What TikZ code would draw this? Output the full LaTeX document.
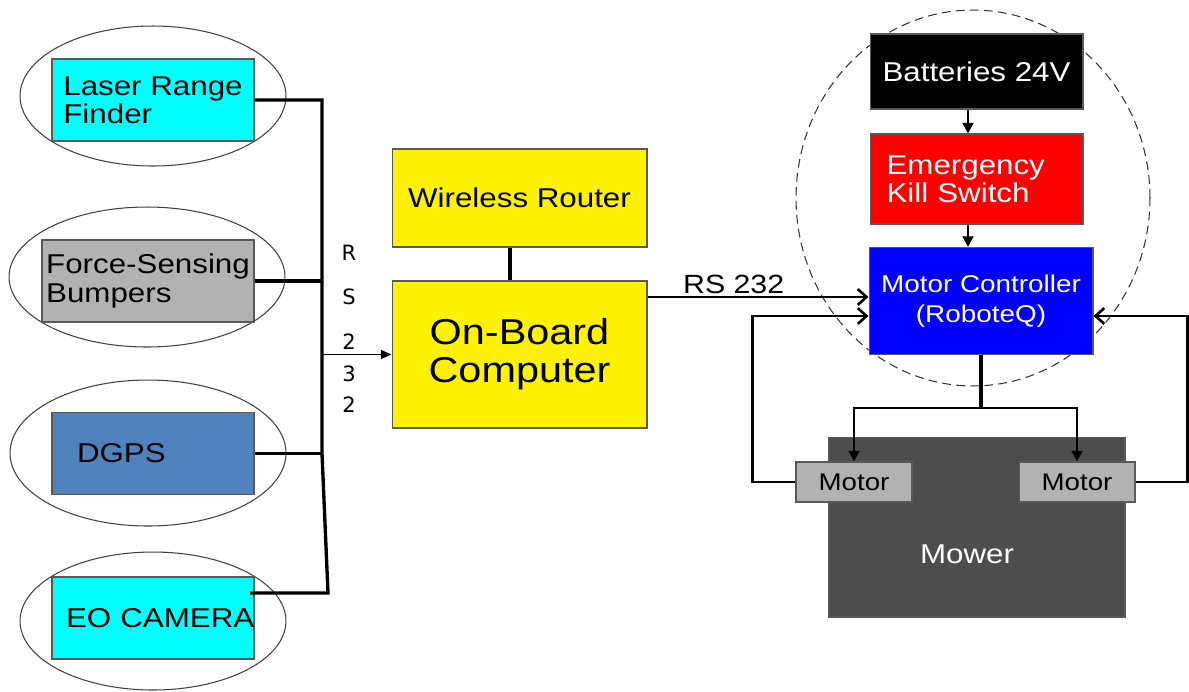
\documentclass[tikz,border=0pt]{standalone}
\usepackage{fontspec}
\setmainfont{Liberation Sans}[FakeStretch=1.15]
\newfontfamily\rsfont{DejaVu Sans}
\usetikzlibrary{arrows.meta}
\definecolor{aqua}{RGB}{0,255,255}
\definecolor{bumpgray}{RGB}{178,178,178}
\definecolor{gpsblue}{RGB}{79,129,189}
\definecolor{mowergray}{RGB}{77,77,77}
\tikzset{
    box/.style={draw=black!65, line width=0.6pt, inner sep=2pt},
    sensor/.style={box, minimum width=4.04cm, minimum height=1.64cm, align=left, font=\fontsize{15.5}{16}\selectfont},
    yellowbox/.style={box, fill=yellow, minimum width=5.1cm, align=center, font=\fontsize{15.5}{16}\selectfont},
    motorbox/.style={box, fill=bumpgray, minimum width=2.32cm, minimum height=0.8cm, font=\fontsize{13.7}{15}\selectfont},
    grp/.style={draw=black!75, line width=0.6pt},
    bus/.style={line width=1.9pt},
    busarrow/.style={line width=1.1pt, -{Triangle[length=6pt,width=5pt]}},
    tri/.style={line width=1.6pt, -{Triangle[length=6pt,width=6pt]}},
    chev/.style={line width=1.5pt, -{Straight Barb[length=5pt,width=9pt]}}
}
\begin{document}
\begin{tikzpicture}[x=0.02cm, y=-0.02cm]
    \useasboundingbox (0,0) rectangle (1189,691);
    % groups
    \draw[grp] (153,96) ellipse [x radius=2.66cm, y radius=1.4cm];
    \draw[grp] (147,277) ellipse [x radius=2.76cm, y radius=1.4cm];
    \draw[grp] (148,453) ellipse [x radius=2.76cm, y radius=1.46cm];
    \draw[grp] (153,621) ellipse [x radius=2.66cm, y radius=1.38cm];
    \draw[black!80, line width=0.6pt, dash pattern=on 5pt off 3pt] (973,198) ellipse [x radius=3.54cm, y radius=3.76cm];

    % sensors
    \node[sensor, fill=aqua] (laser) at (153,100) {Laser Range\\Finder};
    \node[sensor, fill=bumpgray, minimum width=4.24cm] (bumper) at (148,281) {Force-Sensing\\Bumpers};
    \node[sensor, fill=gpsblue, text width=3.04cm] (dgps) at (153,453.5) {DGPS};
    \node[sensor, fill=aqua, text width=3.48cm] (camera) at (153,618) {\mbox{EO CAMERA}};

    % computer
    \node[yellowbox, minimum height=1.96cm] (router) at (519.5,198) {Wireless Router};
    \node[yellowbox, minimum height=2.94cm, font=\fontsize{20.5}{21.5}\selectfont] (obc) at (519.5,354.5) {On-Board\\Computer};

    % power and drive
    \node[box, fill=black, text=white, minimum width=4.26cm, minimum height=1.5cm, font=\fontsize{15.5}{16}\selectfont] (battery) at (976.5,71.5) {Batteries 24V};
    \node[box, fill=red, text=white, minimum width=4.26cm, minimum height=1.8cm, text width=3.6cm, align=left, font=\fontsize{15.5}{16}\selectfont] (killsw) at (976.5,179) {Emergency\\Kill Switch};
    \node[box, fill=blue, text=white, minimum width=4.48cm, minimum height=2.14cm, align=center, font=\fontsize{13.8}{17}\selectfont] (ctrl) at (981,301) {Motor Controller\\(RoboteQ)};
    \node[box, fill=mowergray, minimum width=5.94cm, minimum height=3.6cm] (mower) at (976.5,527) {};
    \node[text=white, font=\fontsize{15.5}{16}\selectfont] (mowertext) at (967,554) {Mower};
    \node[motorbox] (lmotor) at (854,482) {Motor};
    \node[motorbox] (rmotor) at (1077,482) {Motor};

    % sensor bus
    \coordinate (bustop) at (322,100);
    \coordinate (busgps) at (322,453.5);
    \coordinate (busend) at (328,593);
    \coordinate (busout) at (322,354.5);
    \coordinate (camout) at (250,593);
    \draw[bus] (laser.east) -- (bustop) -- (busgps) -- (busend) -- (camout);
    \draw[bus] (bumper.east) -- (bumper.east -| bustop);
    \draw[bus] (dgps.east) -- (busgps);
    \draw[busarrow] (busout) -- (obc.west);
    \foreach \ch/\y [count=\i] in {R/253,S/297,2/342,3/374,2/405}
        \node[font=\rsfont\fontsize{12}{14}\selectfont] (rs\i) at (349,\y) {\ch};

    \draw[bus] ([xshift=-0.19cm]router.south) -- ([xshift=-0.19cm]obc.north);
    \coordinate (rsin) at ([yshift=0.08cm]ctrl.west);
    \draw[chev] (rsin -| obc.east) -- node[above, pos=0.39, inner sep=1pt, font=\fontsize{15}{16}\selectfont] (rslabel) {RS 232} (rsin);

    \draw[tri] ([xshift=-0.17cm]battery.south) -- ([xshift=-0.17cm]killsw.north);
    \draw[tri] ([xshift=-0.17cm]killsw.south) -- ([xshift=-0.17cm]killsw.south |- ctrl.north);

    \coordinate (split) at (981,408);
    \draw[bus] (ctrl.south) -- (split);
    \draw[tri] (split) -| (lmotor.north);
    \draw[tri] (split) -| (rmotor.north);
    \draw[chev] (lmotor.west) -- ++(-43,0) |- ([yshift=-0.3cm]ctrl.west);
    \draw[chev] (rmotor.east) -- ++(52,0) |- ([yshift=-0.3cm]ctrl.east);
\end{tikzpicture}
\end{document}
